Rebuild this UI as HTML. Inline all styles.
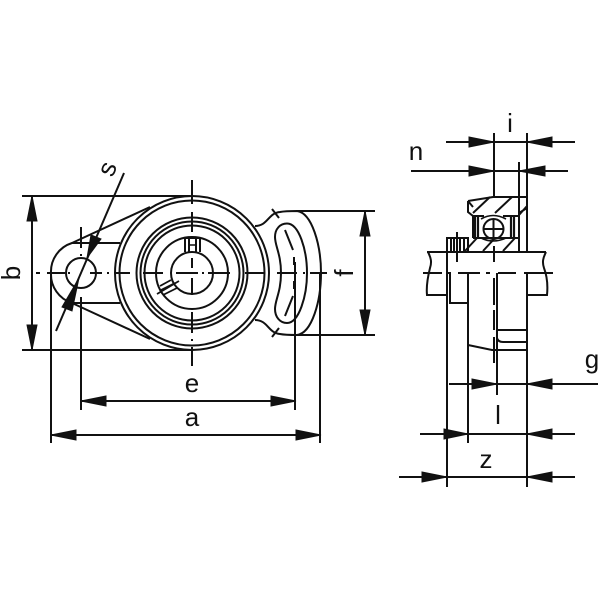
<!DOCTYPE html>
<html><head><meta charset="utf-8"><style>
html,body{margin:0;padding:0;background:#fff;width:600px;height:600px;overflow:hidden}
svg{display:block}
text{font-family:"Liberation Sans",sans-serif;font-size:26px;fill:#111}
</style></head><body>
<svg width="600" height="600" viewBox="0 0 600 600" xmlns="http://www.w3.org/2000/svg">
<rect width="600" height="600" fill="#fff"/>
<g fill="none" stroke="#111" stroke-width="2">
<!-- Front view circles -->
<circle cx="192" cy="273" r="77"/>
<circle cx="192" cy="273" r="72.500"/>
<circle cx="192" cy="273" r="55.500"/>
<circle cx="192" cy="273" r="51.500"/>
<circle cx="192" cy="273" r="47.500"/>
<circle cx="192" cy="273" r="36"/>
<circle cx="192" cy="273" r="21"/>
<!-- Left lug -->
<path d="M150 207L72 243A30 30 0 0 0 51 273A30 30 0 0 0 72 303L150 339"/>
<path d="M72 243H120M72 303H120"/>
<circle cx="81" cy="273" r="15"/>
<!-- Right wing -->
<path d="M255 226C268 226 268 213 280 212C285 211 290 211 297 211C312 213 321 245 321 273C321 301 312 333 297 335C290 335 285 335 280 334C268 333 268 320 255 320"/>
<path d="M272 209L279 218M272 337L279 328"/>
<path d="M287 223.500C299 223.500 307 250 307 273C307 296 299 323 287 323C280 323 275 317 275 309C275 300 281 292 281 273C281 254 275 246 275 237C275 229 280 223.500 287 223.500Z"/>
<path d="M285 230L293 250M285 316L293 296M294 257V265M294 281V289"/>
<!-- Keys -->
<path d="M185 238V252M189 238V252M196 238V252M200 238V252M185 238H200"/>
<path d="M190 245H195" stroke-width="1.500"/>
<path d="M157 294L179 281M160 286L171 280M163 295L177 288M161 290L175 283" stroke-width="1.800"/>
<!-- Front center lines -->
<path d="M192 180V204M192 212V232M192 258V268M192 278V295M192 312V333M192 339V341M192 347V366"/>
<path d="M36 273H40M47 273H65M68 273H70M90 273H102M107 273H109M115 273H130M143 273H163M176 273H198M202 273H204M208 273H230M245 273H265M277 273H297M303 273H305M310 273H327"/>
<path d="M81 227V248M81 254V256M81 297V320"/>
<!-- Left dims -->
<path d="M22 196H190M22 350H192"/>
<path d="M32 196V350"/>
<path d="M297 211H375M297 335H375M365 211V335"/>
<path d="M51 273V443M81 303V410M295 262V410M320 273V443"/>
<path d="M81 401H296M51 435H321"/>
<path d="M124 173L56 331" stroke-width="2"/>
<!-- Right view -->
<path d="M494 133V197M527 133V252M519 162V252"/>
<path d="M446 142H575M411 171H568"/>
<!-- Bearing -->
<path d="M468 201L493 197H527M468 201V212L473 216V238M468 201L473 207M527 197V206L519 215M519 213L527 208"/>
<path d="M473 216H484M503 216H519M473 238H519"/>
<path d="M473 213L490 197M495 213L512 197M465 251L477 238M483 251L495 238M503 251L515 238"/>
<path d="M475 217V237M478 217V238M511 217V238M514 217V238" stroke-width="2.200"/>
<circle cx="493.500" cy="229" r="10"/>
<path d="M484 229H503M493.500 220V238"/>
<path d="M481 219Q493 212 506 219M481 238Q493 244 506 238" stroke-width="1.600"/>
<!-- Set screw -->
<path d="M447 238H468V252H447ZM451 238V252M454 238V252M460 238V252M464 238V252"/>
<path d="M457 232V262"/>
<!-- Shaft -->
<path d="M427 252H546"/>
<path d="M428 252C431 258 432 262 430 268C428 276 426 285 427 295H447M546 252C543 258 542 262 544 268C547 276 548 285 547 295H527"/>
<path d="M423 273H442M447 273H451M458 273H480M486 273H490M498 273H516M524 273H553"/>
<path d="M447 252V487M450 273V303M449 303H468M468 273V443M497 273V395M527 273V487"/>
<path d="M494 246V262M494 278V305M494 310V330M494 337V363"/>
<path d="M468 345L492 350H527M497 330H527M497 338Q498 342 503 342H527"/>
<path d="M449 384H598M420 434H575M399 477H575"/>
</g>
<!-- Arrowheads -->
<g fill="#111" stroke="#111" stroke-width="1">
<path d="M32 196L27 221H37ZM32 350L27 325H37Z"/>
<path d="M365 211L360 236H370ZM365 335L360 310H370Z"/>
<path d="M81 401L106 396V406ZM296 401L271 396V406Z"/>
<path d="M51 435L76 430V440ZM321 435L296 430V440Z"/>
<path d="M87 258L91 235L101 239ZM79 278L62 307L72 311Z"/>
<path d="M494 142L469 137V147ZM527 142L552 137V147Z"/>
<path d="M494 171L469 166V176ZM519 171L545 166V176Z"/>
<path d="M497 384L472 379V389ZM527 384L552 379V389Z"/>
<path d="M468 434L444 429V439ZM527 434L552 429V439Z"/>
<path d="M447 477L422 472V482ZM527 477L552 472V482Z"/>
</g>
<!-- Labels -->
<text x="192" y="392" text-anchor="middle">e</text>
<text x="192" y="426" text-anchor="middle">a</text>
<text transform="translate(20,273) rotate(-90)" text-anchor="middle">b</text>
<text transform="translate(353,273) rotate(-90)" text-anchor="middle">f</text>
<text transform="translate(115,172) rotate(-68)" text-anchor="middle">s</text>
<text x="510" y="132" text-anchor="middle">i</text>
<text x="416" y="160" text-anchor="middle">n</text>
<text x="592" y="368" text-anchor="middle">g</text>
<text x="498" y="424" text-anchor="middle">l</text>
<text x="486" y="468" text-anchor="middle">z</text>
</svg>
</body></html>
